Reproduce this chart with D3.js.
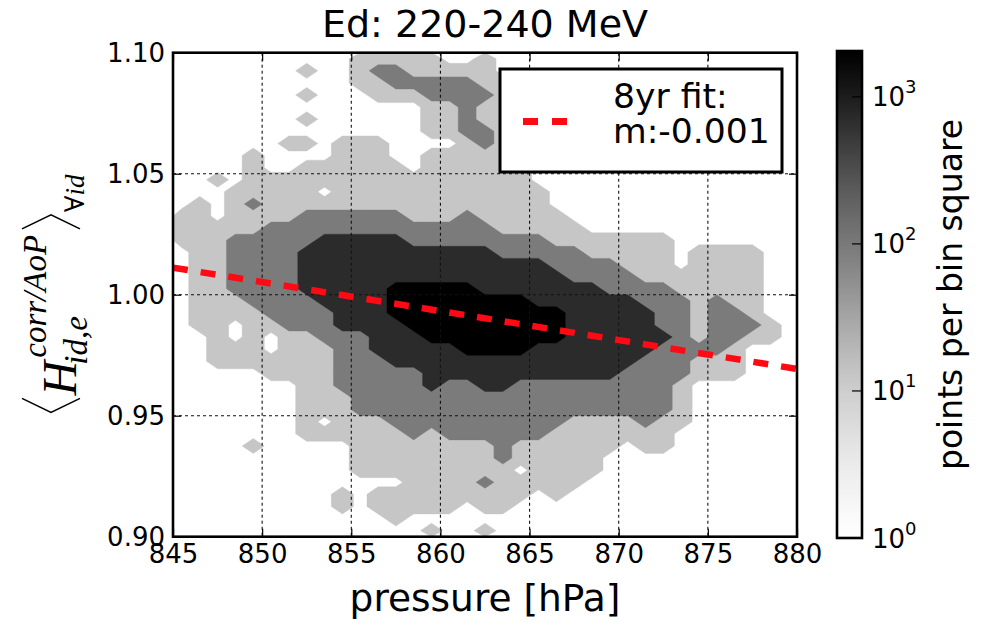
<!DOCTYPE html>
<html>
<head>
<meta charset="utf-8">
<script src="https://cdn.jsdelivr.net/npm/d3@7"></script>
<style>
  body { margin: 0; background: #fff; }
  svg { display: block; font-family: 'DejaVu Sans', sans-serif; }
</style>
</head>
<body>
<svg id="chart" width="992" height="627"></svg>
<script>
// Axis ranges and ticks
const pressureRange = [845, 880];
const ratioRange = [0.90, 1.10];
const pressureTicks = [845, 850, 855, 860, 865, 870, 875, 880];
const ratioTicks = [0.90, 0.95, 1.00, 1.05, 1.10];

// 2D histogram, 1 hPa x 0.005 bins. One string per ratio bin from 1.10 (top) down to 0.90,
// one character per pressure bin from 845 to 880.
// 0 = empty, 1 = 1-10, 2 = 10-100, 3 = 100-1000, 4 = >1000 points per bin square
const densityBands = [
  "00000000001111100100000000000000000",
  "00000001001221111100000000000000000",
  "00000000001122222110000000000000000",
  "00000001000111222210000000000000000",
  "00000000000000112110000000000000000",
  "00000001000000112110000000000000000",
  "00000000000000112210000000000000000",
  "00000011011100001210000000000000000",
  "00001000011100111110000000000000000",
  "00001001111110111111000000000000000",
  "00101111111111111111000000000000000",
  "00011111011111111111100000000000000",
  "01012111111111111111100000000000000",
  "11011112222221112111110000000000000",
  "11111222222222222211111000000000000",
  "11122222333332222222211111110000000",
  "01122223333333333322222111110111100",
  "01122223333333333333322221110111100",
  "01122223333333333333332222111111100",
  "01122223333344444333333322221111100",
  "01112222333344444444333333222121100",
  "01111222233344444444443333322122100",
  "01101122233334444444443333322122210",
  "00101011222333444444443333332122110",
  "00111011122333334444333333322221000",
  "00111111122233333333333333222111000",
  "00000111122222333333333332222111000",
  "00000001122222322332222222221000000",
  "00000001112222222222222222221000000",
  "00000001112222222222222222221000000",
  "00000001011122222222221111211000000",
  "00000001111112122222211111110000000",
  "00001000001111111121111110110000000",
  "00000000001111111121111100000000000",
  "00000000001111111110111100000000000",
  "00000000000001111211111000000000000",
  "00000000010111111111010000000000000",
  "00000000010111110110000000000000000",
  "00000000000010000000000000000000000",
  "00000000000000100100000000000000000"
];
const bandThresholds = [0.38, 1.5, 2.5, 3.5];

// 8yr linear fit
const fitPressure = [845, 880];
const fitRatio = [1.0112, 0.9693];

// colour bar (log scale)
const colorbarDomain = [1, 2050];
const colorbarTicks = [1, 10, 100, 1000];

const bandColors = ["#c6c6c6", "#7b7b7b", "#2b2b2b", "#000000"];

const svg = d3.select("#chart");
const plot = {left: 173, right: 797, top: 52.7, bottom: 536.7};

const x = d3.scaleLinear().domain(pressureRange).range([plot.left, plot.right]);
const y = d3.scaleLinear().domain(ratioRange).range([plot.bottom, plot.top]);

svg.append("clipPath").attr("id", "plot-clip")
  .append("rect")
  .attr("x", plot.left).attr("y", plot.top)
  .attr("width", plot.right - plot.left).attr("height", plot.bottom - plot.top);

// Filled contours of the histogram
const nx = densityBands[0].length;
const ny = densityBands.length;
const binW = (pressureRange[1] - pressureRange[0]) / nx;
const binH = (ratioRange[1] - ratioRange[0]) / ny;
const values = densityBands.flatMap(row => Array.from(row, Number));

const contours = d3.contours().size([nx, ny]).thresholds(bandThresholds)(values);
const gridToScreen = d3.geoTransform({
  point: function(gx, gy) {
    this.stream.point(x(pressureRange[0] + gx * binW), y(ratioRange[1] - gy * binH));
  }
});
const contourPath = d3.geoPath(gridToScreen);

svg.append("g")
  .attr("clip-path", "url(#plot-clip)")
  .selectAll("path")
  .data(contours)
  .join("path")
  .attr("d", contourPath)
  .attr("fill", (d, i) => bandColors[i])
  .attr("stroke", (d, i) => bandColors[i])
  .attr("stroke-width", 0.4);

// Grid
const grid = svg.append("g")
  .attr("stroke", "#111")
  .attr("stroke-width", 1.1)
  .attr("stroke-dasharray", "3,3");
grid.selectAll("line.vx")
  .data(pressureTicks.slice(1, -1))
  .join("line")
  .attr("x1", d => x(d)).attr("x2", d => x(d))
  .attr("y1", plot.top).attr("y2", plot.bottom);
grid.selectAll("line.hy")
  .data(ratioTicks.slice(1, -1))
  .join("line")
  .attr("x1", plot.left).attr("x2", plot.right)
  .attr("y1", d => y(d)).attr("y2", d => y(d));

// Fit line
const fitLine = d3.line().x(d => x(d[0])).y(d => y(d[1]));
svg.append("path")
  .datum(fitPressure.map((p, i) => [p, fitRatio[i]]))
  .attr("clip-path", "url(#plot-clip)")
  .attr("d", fitLine)
  .attr("fill", "none")
  .attr("stroke", "#ff0a14")
  .attr("stroke-width", 6.5)
  .attr("stroke-dasharray", "15,13");

// Axes (ticks point inward)
const xAxis = svg.append("g")
  .attr("transform", `translate(0,${plot.bottom})`)
  .call(d3.axisBottom(x).tickValues(pressureTicks).tickSize(-8).tickPadding(8).tickFormat(d3.format("d")));
const xAxisTop = svg.append("g")
  .attr("transform", `translate(0,${plot.top})`)
  .call(d3.axisTop(x).tickValues(pressureTicks).tickSize(-8).tickFormat(""));
const yAxis = svg.append("g")
  .attr("transform", `translate(${plot.left},0)`)
  .call(d3.axisLeft(y).tickValues(ratioTicks).tickSize(-8).tickPadding(8).tickFormat(d3.format(".2f")));
const yAxisRight = svg.append("g")
  .attr("transform", `translate(${plot.right},0)`)
  .call(d3.axisRight(y).tickValues(ratioTicks).tickSize(-8).tickFormat(""));

[xAxis, xAxisTop, yAxis, yAxisRight].forEach(a => {
  a.select(".domain").remove();
  a.selectAll(".tick line").attr("stroke", "#000").attr("stroke-width", 1.2);
  a.selectAll(".tick text")
    .attr("font-family", "'DejaVu Sans', sans-serif")
    .attr("font-size", 26)
    .attr("fill", "#000");
});

svg.append("rect")
  .attr("x", plot.left).attr("y", plot.top)
  .attr("width", plot.right - plot.left).attr("height", plot.bottom - plot.top)
  .attr("fill", "none").attr("stroke", "#000").attr("stroke-width", 2.6);

// Title and x label
svg.append("text")
  .attr("x", (plot.left + plot.right) / 2).attr("y", 37)
  .attr("text-anchor", "middle")
  .attr("font-size", 38)
  .text("Ed: 220-240 MeV");

svg.append("text")
  .attr("x", (plot.left + plot.right) / 2).attr("y", 611)
  .attr("text-anchor", "middle")
  .attr("font-size", 37.5)
  .text("pressure [hPa]");

// Y label: <H_{id,e}^{corr/AoP}>_{∀id}
const serif = "'Liberation Serif', 'DejaVu Serif', serif";
const yl = svg.append("g");
const bracketW = 14, bracketTop = -54, bracketBot = 4;
let pos = 0;
yl.append("path")
  .attr("d", `M${pos + bracketW},${bracketBot} L${pos},${(bracketTop + bracketBot) / 2} L${pos + bracketW},${bracketTop}`)
  .attr("fill", "none").attr("stroke", "#000").attr("stroke-width", 1.6);
pos += bracketW + 3;
const hText = yl.append("text")
  .attr("x", pos).attr("y", 0)
  .attr("font-family", serif).attr("font-style", "italic").attr("font-size", 48)
  .text("H");
const hEnd = pos + hText.node().getComputedTextLength();
const supText = yl.append("text")
  .attr("x", hEnd + 3).attr("y", -30)
  .attr("font-family", serif).attr("font-style", "italic").attr("font-size", 33)
  .text("corr/AoP");
const subText = yl.append("text")
  .attr("x", hEnd - 4).attr("y", 11)
  .attr("font-family", serif).attr("font-style", "italic").attr("font-size", 33)
  .text("id,e");
pos = Math.max(hEnd + 3 + supText.node().getComputedTextLength(), hEnd - 4 + subText.node().getComputedTextLength()) + 6;
yl.append("path")
  .attr("d", `M${pos},${bracketBot} L${pos + bracketW},${(bracketTop + bracketBot) / 2} L${pos},${bracketTop}`)
  .attr("fill", "none").attr("stroke", "#000").attr("stroke-width", 1.6);
pos += bracketW + 3;
const forallText = yl.append("text")
  .attr("x", pos).attr("y", 8)
  .attr("font-family", serif).attr("font-style", "italic").attr("font-size", 27)
  .text("\u2200id");
pos += forallText.node().getComputedTextLength();
yl.attr("transform", `translate(76,${293.5 + pos / 2}) rotate(-90)`);

// Colour bar
const cbar = {left: 837, right: 862, top: 51, bottom: 538};
const cy = d3.scaleLog().domain(colorbarDomain).range([cbar.bottom, cbar.top]);
const grad = svg.append("defs").append("linearGradient")
  .attr("id", "cbar-grad")
  .attr("x1", 0).attr("y1", 1).attr("x2", 0).attr("y2", 0);
grad.selectAll("stop")
  .data(d3.range(0, 1.0001, 0.05))
  .join("stop")
  .attr("offset", d => d)
  .attr("stop-color", d => d3.interpolateGreys(d));

svg.append("rect")
  .attr("x", cbar.left).attr("y", cbar.top)
  .attr("width", cbar.right - cbar.left).attr("height", cbar.bottom - cbar.top)
  .attr("fill", "url(#cbar-grad)")
  .attr("stroke", "#000").attr("stroke-width", 2.6);

const cticks = svg.append("g");
cticks.selectAll("line")
  .data(colorbarTicks.slice(1))
  .join("line")
  .attr("x1", cbar.right).attr("x2", cbar.right - 10)
  .attr("y1", d => cy(d)).attr("y2", d => cy(d))
  .attr("stroke", "#000").attr("stroke-width", 1.2);
const ctext = cticks.selectAll("text")
  .data(colorbarTicks)
  .join("text")
  .attr("x", cbar.right + 10)
  .attr("y", d => cy(d) + 9.5)
  .attr("font-size", 26);
ctext.append("tspan").text("10");
ctext.append("tspan")
  .attr("dy", -13)
  .attr("font-size", 18)
  .text(d => Math.round(Math.log10(d)));

svg.append("text")
  .attr("transform", `translate(962,${(cbar.top + cbar.bottom) / 2}) rotate(-90)`)
  .attr("text-anchor", "middle")
  .attr("font-size", 33)
  .text("points per bin square");

// Legend
const legend = svg.append("g");
legend.append("rect")
  .attr("x", 500).attr("y", 69).attr("width", 282).attr("height", 103)
  .attr("fill", "#fff").attr("stroke", "#000").attr("stroke-width", 3);
legend.append("line")
  .attr("x1", 523).attr("x2", 568).attr("y1", 121.5).attr("y2", 121.5)
  .attr("stroke", "#ff0a14").attr("stroke-width", 7)
  .attr("stroke-dasharray", "15,14");
legend.append("text").attr("x", 613).attr("y", 108).attr("font-size", 34.6).text("8yr fit:");
legend.append("text").attr("x", 613).attr("y", 143).attr("font-size", 34.6).text("m:-0.001");
</script>
</body>
</html>
